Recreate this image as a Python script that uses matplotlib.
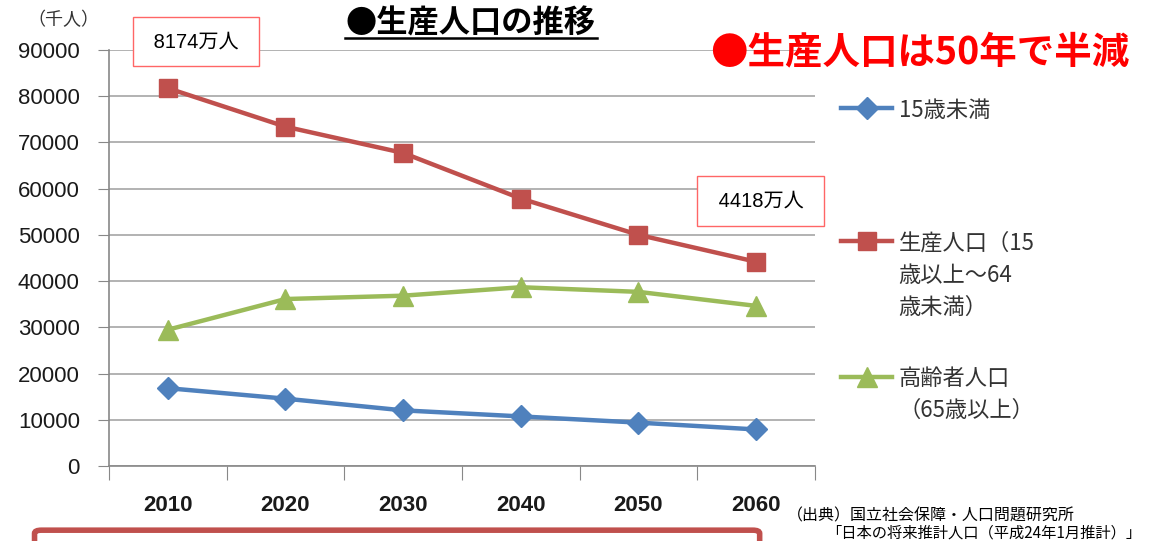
import matplotlib.pyplot as plt
from matplotlib.lines import Line2D
from matplotlib.patches import FancyBboxPatch

plt.rcParams['font.family'] = ['Noto Sans CJK JP', 'DejaVu Sans']

years = ['2010', '2020', '2030', '2040', '2050', '2060']
under15 = [16839, 14568, 12039, 10732, 9387, 7912]
working = [81735, 73408, 67730, 57866, 50013, 44183]
elderly = [29484, 36124, 36849, 38678, 37676, 34642]
series_labels = ['15歳未満', '生産人口（15\n歳以上～64\n歳未満）', '高齢者人口\n（65歳以上）']
y_ticks = list(range(0, 90001, 10000))

blue = '#4F81BD'
red = '#C0504D'
green = '#9BBB59'
num_font = ['Liberation Sans', 'Noto Sans CJK JP']

fig = plt.figure(figsize=(11.51, 5.41), dpi=100)
ax = fig.add_axes([0.0947, 0.1386, 0.6133, 0.769])

x = list(range(len(years)))
l1, = ax.plot(x, under15, color=blue, lw=3.2, marker='D', ms=11)
l2, = ax.plot(x, working, color=red, lw=3.2, marker='s', ms=13)
l3, = ax.plot(x, elderly, color=green, lw=3.2, marker='^', ms=14)

ax.set_xlim(-0.5, 5.5)
ax.set_ylim(0, 90000)
ax.set_yticks(y_ticks)
ax.set_yticklabels([str(v) for v in y_ticks], family='Liberation Sans', fontsize=16, color='#1a1a1a')
ax.set_xticks([i - 0.5 for i in range(len(years) + 1)])
ax.set_xticklabels([])
ax.set_xticks(x, minor=True)
ax.set_xticklabels(years, minor=True, family='Liberation Sans', fontsize=16, fontweight='bold',
                   color='#1a1a1a')
ax.tick_params(axis='x', which='minor', length=0, pad=21)
ax.tick_params(axis='x', which='major', length=10, color='#888888')
ax.tick_params(axis='y', length=8, color='#888888', pad=13)
ax.grid(axis='y', color='#a6a6a6', lw=1.2)
ax.set_axisbelow(True)
for s in ['top', 'right']:
    ax.spines[s].set_visible(False)
for s in ['left', 'bottom']:
    ax.spines[s].set_color('#888888')
    ax.spines[s].set_linewidth(1.2)

# legend: one block per series, handle level with the first line of text
legend_tops = [0.838, 0.592, 0.342]
for handle, label, top in zip([l1, l2, l3], series_labels, legend_tops):
    leg = fig.legend([handle], [label], loc='upper left', bbox_to_anchor=(0.721, top),
                     frameon=False, handlelength=2.3, handletextpad=0.3, handleheight=1.2,
                     borderpad=0, prop={'family': ['Noto Sans CJK JP'], 'size': 16})
    for t in leg.get_texts():
        t.set_color('#333333')
        t.set_linespacing(1.5)
    for col in leg._legend_handle_box.get_children():
        for item in col.get_children():
            item.align = 'top'

# value boxes
ax.text(0.24, 91800, ' 8174万人 ', ha='center', va='center', fontsize=14.5, family=num_font,
        bbox=dict(boxstyle='square,pad=0.75', fc='white', ec='#ff6666', lw=1))
ax.text(5.04, 57350, ' 4418万人 ', ha='center', va='center', fontsize=14.5, family=num_font,
        bbox=dict(boxstyle='square,pad=0.75', fc='white', ec='#ff6666', lw=1))

# titles
fig.text(0.300, 0.957, '●生産人口の推移', fontsize=22.5, fontweight='bold', ha='left', va='center')
fig.add_artist(Line2D([0.300, 0.519], [0.929, 0.929], color='black', lw=1.8))
fig.text(0.617, 0.905, '●生産人口は50年で半減', fontsize=27, fontweight='bold', color='#ff0000',
         ha='left', va='center')
fig.text(0.024, 0.962, '（千人）', fontsize=13, ha='left', va='center', color='#333333')

# source
fig.text(0.684, 0.047, '（出典）国立社会保障・人口問題研究所', fontsize=11.5, ha='left', va='center')
fig.text(0.718, 0.015, '「日本の将来推計人口（平成24年1月推計）」', fontsize=11, ha='left', va='center')

# partial box at the bottom
fig.add_artist(FancyBboxPatch((0.030, -0.05), 0.630, 0.07, boxstyle='round,pad=0,rounding_size=0.006',
                              transform=fig.transFigure, fc='white', ec=red, lw=4))

fig.savefig('out.png', dpi=100)
